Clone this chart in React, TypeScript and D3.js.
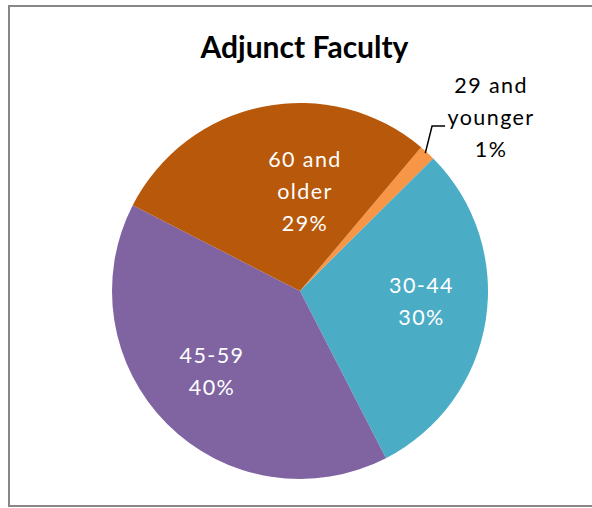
import React from "react";
import * as d3 from "d3";

const title = "Adjunct Faculty";
const categories = ["29 and younger", "30-44", "45-59", "60 and older"];
const values = [1.4, 29.9, 40.1, 28.6];
const labelLines = [["29 and", "younger"], ["30-44"], ["45-59"], ["60 and", "older"]];
const colors = ["#F79646", "#4BACC6", "#8064A2", "#B8580A"];

const W = 592;
const H = 508;
const cx = 300;
const cy = 291;
const R = 188;
const startDeg = 40.1;
// layout nudges for label placement (like Excel best-fit)
const nudges: [number, number][] = [[38.3, -7.5], [2.7, -8.2], [-3, -4.9], [28.7, 18.9]];
const outside = [true, false, false, false];

export default function App() {
  const total = d3.sum(values);
  const a0 = (startDeg * Math.PI) / 180;
  const pie = d3
    .pie<number>()
    .sort(null)
    .value((d) => d)
    .startAngle(a0)
    .endAngle(a0 + 2 * Math.PI);
  const arcs = pie(values);
  const arc = d3.arc<d3.PieArcDatum<number>>().innerRadius(0).outerRadius(R);
  const inLabelArc = d3.arc<d3.PieArcDatum<number>>().innerRadius(R * 0.64).outerRadius(R * 0.64);
  const outLabelArc = d3.arc<d3.PieArcDatum<number>>().innerRadius(R * 1.2).outerRadius(R * 1.2);
  const edgeArc = d3.arc<d3.PieArcDatum<number>>().innerRadius(R).outerRadius(R);
  const lineH = 32;
  const capHalf = 7.5;

  return (
    <svg width={W} height={H} style={{ position: "absolute", left: 0, top: 0 }}>
      <rect x={0} y={0} width={W} height={H} fill="#fff" />
      <rect x={9} y={6} width={620} height={500} fill="none" stroke="#878787" strokeWidth={2} />
      <text
        x={304.5}
        y={58}
        textAnchor="middle"
        fontFamily="Lato, 'Open Sans', sans-serif"
        fontWeight="bold"
        fontSize={30}
        fill="#000"
      >
        {title}
      </text>
      <g transform={`translate(${cx},${cy})`}>
        {arcs.map((a, i) => (
          <path key={categories[i]} d={arc(a) || ""} fill={colors[i]} />
        ))}
        {arcs.map((a, i) => {
          const isOut = outside[i];
          const c = (isOut ? outLabelArc : inLabelArc).centroid(a);
          const lx = c[0] + nudges[i][0];
          const ly = c[1] + nudges[i][1];
          const lines = [...labelLines[i], `${Math.round((values[i] / total) * 100)}%`];
          const n = lines.length;
          const e = edgeArc.centroid(a);
          return (
            <g key={"l" + i}>
              {isOut && (
                <polyline
                  points={`${e[0] - 2},${e[1] + 0.5} ${lx - 59},${ly + 8.5} ${lx - 46},${ly + 8.5}`}
                  fill="none"
                  stroke="#000"
                  strokeWidth={1.5}
                />
              )}
              <text
                textAnchor="middle"
                fontFamily="Lato, 'Open Sans', sans-serif"
                fontSize={21.5}
                letterSpacing={1.4}
                fill={isOut ? "#000" : "#fff"}
              >
                {lines.map((t, j) => (
                  <tspan key={j} x={lx} y={ly + (j - (n - 1) / 2) * lineH + capHalf}>
                    {t}
                  </tspan>
                ))}
              </text>
            </g>
          );
        })}
      </g>
    </svg>
  );
}
